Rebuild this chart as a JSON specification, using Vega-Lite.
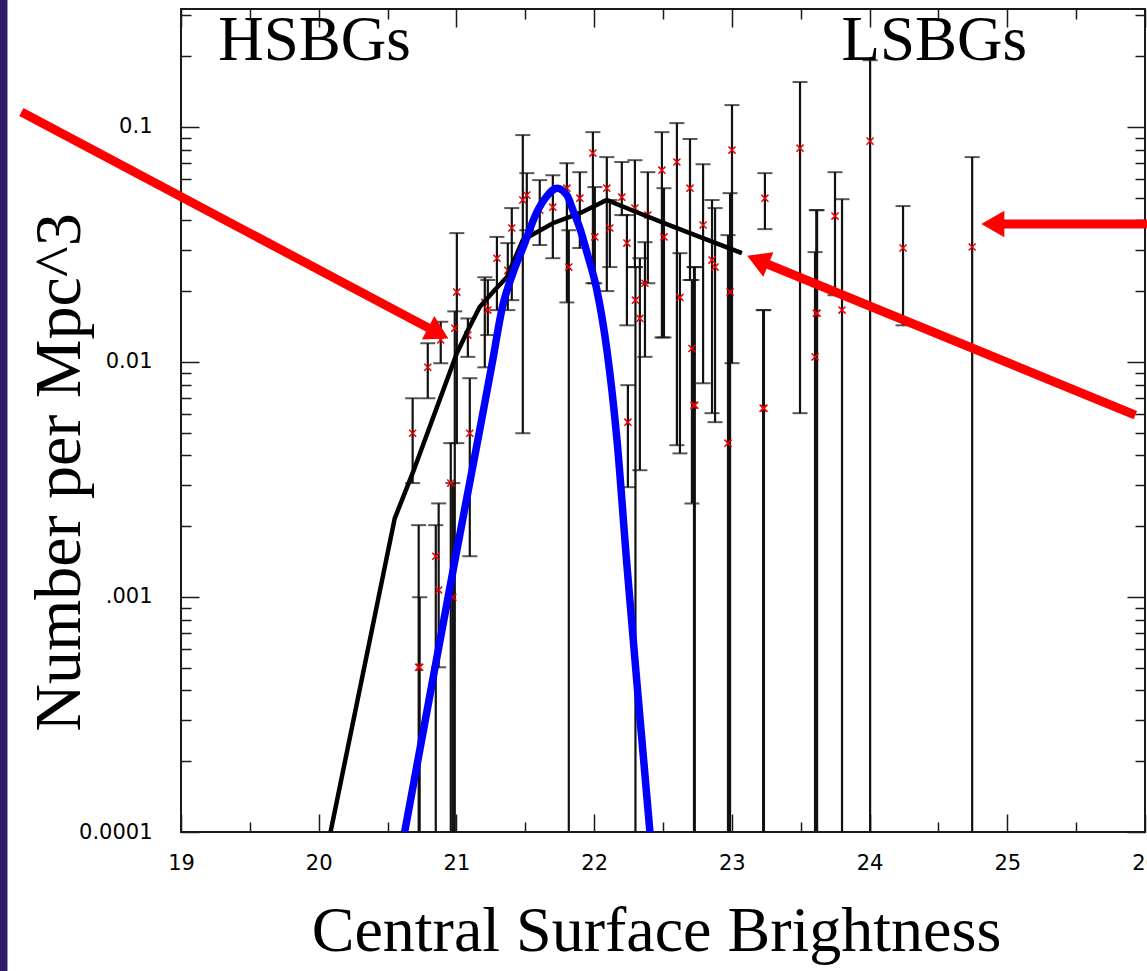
{
  "$schema": "https://vega.github.io/schema/vega-lite/v6.json",
  "width": 964,
  "height": 823,
  "autosize": {"type": "none"},
  "padding": {"left": 181, "top": 9, "right": 2, "bottom": 139},
  "background": "white",
  "config": {
    "view": {"stroke": "#1a1a1a", "strokeWidth": 2},
    "axis": {"grid": false, "domain": false, "tickColor": "#1a1a1a", "tickWidth": 1.5, "labelFont": "DejaVu Sans", "labelFontSize": 21, "labelColor": "black", "labelFlush": false, "labelOverlap": false}
  },
  "datasets": {
    "bars": [
      {"x": 20.682, "lo": 0.00305, "hi": 0.0070, "mid": 0.00497},
      {"x": 20.792, "lo": 0.0070, "hi": 0.0120, "mid": 0.00948},
      {"x": 20.886, "lo": 0.00987, "hi": 0.0148, "mid": 0.0124},
      {"x": 21.003, "lo": 0.00451, "hi": 0.0353, "mid": 0.0198},
      {"x": 20.988, "lo": 0.0001, "hi": 0.0164, "mid": 0.0139},
      {"x": 20.974, "lo": 0.0001, "hi": 0.00305, "mid": 0.000997},
      {"x": 20.959, "lo": 0.0001, "hi": 0.00451, "mid": 0.00305},
      {"x": 21.083, "lo": 0.0105, "hi": 0.0153, "mid": 0.0130},
      {"x": 21.097, "lo": 0.00149, "hi": 0.00852, "mid": 0.00497},
      {"x": 20.726, "lo": 0.0001, "hi": 0.00202, "mid": 0.000502},
      {"x": 20.733, "lo": 0.0001, "hi": 0.000997, "mid": 0.000502},
      {"x": 20.850, "lo": 0.0001, "hi": 0.00202, "mid": 0.00149},
      {"x": 20.871, "lo": 0.000502, "hi": 0.0025, "mid": 0.00107},
      {"x": 21.206, "lo": 0.00948, "hi": 0.0229, "mid": 0.0179},
      {"x": 21.228, "lo": 0.0130, "hi": 0.0223, "mid": 0.0166},
      {"x": 21.294, "lo": 0.0166, "hi": 0.0340, "mid": 0.0276},
      {"x": 21.373, "lo": 0.0166, "hi": 0.0320, "mid": 0.0245},
      {"x": 21.402, "lo": 0.0183, "hi": 0.0451, "mid": 0.0371},
      {"x": 21.482, "lo": 0.00497, "hi": 0.0922, "mid": 0.0488},
      {"x": 21.511, "lo": 0.0363, "hi": 0.0635, "mid": 0.0512},
      {"x": 21.605, "lo": 0.0314, "hi": 0.0593, "mid": 0.0442},
      {"x": 21.700, "lo": 0.0276, "hi": 0.0622, "mid": 0.0455},
      {"x": 21.802, "lo": 0.0179, "hi": 0.0700, "mid": 0.0548},
      {"x": 21.816, "lo": 0.0001, "hi": 0.0363, "mid": 0.0253},
      {"x": 21.896, "lo": 0.0305, "hi": 0.0641, "mid": 0.0497},
      {"x": 21.991, "lo": 0.0216, "hi": 0.0949, "mid": 0.0773},
      {"x": 22.005, "lo": 0.0216, "hi": 0.0554, "mid": 0.0340},
      {"x": 22.092, "lo": 0.0200, "hi": 0.0743, "mid": 0.0548},
      {"x": 22.114, "lo": 0.0253, "hi": 0.0488, "mid": 0.0371},
      {"x": 22.201, "lo": 0.0421, "hi": 0.0708, "mid": 0.0502},
      {"x": 22.238, "lo": 0.0143, "hi": 0.0421, "mid": 0.0320},
      {"x": 22.245, "lo": 0.00293, "hi": 0.00796, "mid": 0.00554},
      {"x": 22.296, "lo": 0.0253, "hi": 0.0721, "mid": 0.0451},
      {"x": 22.332, "lo": 0.00346, "hi": 0.0276, "mid": 0.0153},
      {"x": 22.300, "lo": 0.0001, "hi": 0.0253, "mid": 0.0183},
      {"x": 22.390, "lo": 0.0216, "hi": 0.0641, "mid": 0.0421},
      {"x": 22.369, "lo": 0.0105, "hi": 0.0323, "mid": 0.0216},
      {"x": 22.492, "lo": 0.0127, "hi": 0.0949, "mid": 0.0654},
      {"x": 22.507, "lo": 0.0127, "hi": 0.0548, "mid": 0.0340},
      {"x": 22.601, "lo": 0.00442, "hi": 0.1037, "mid": 0.0708},
      {"x": 22.623, "lo": 0.00408, "hi": 0.0290, "mid": 0.0188},
      {"x": 22.696, "lo": 0.0223, "hi": 0.0887, "mid": 0.0548},
      {"x": 22.725, "lo": 0.0001, "hi": 0.0253, "mid": 0.00654},
      {"x": 22.731, "lo": 0.0001, "hi": 0.0253, "mid": 0.00654},
      {"x": 22.710, "lo": 0.0025, "hi": 0.0223, "mid": 0.0114},
      {"x": 22.791, "lo": 0.00811, "hi": 0.0693, "mid": 0.0382},
      {"x": 22.856, "lo": 0.00605, "hi": 0.0488, "mid": 0.0271},
      {"x": 22.878, "lo": 0.00554, "hi": 0.0451, "mid": 0.0253},
      {"x": 23.001, "lo": 0.00987, "hi": 0.1237, "mid": 0.0796},
      {"x": 22.987, "lo": 0.0001, "hi": 0.0522, "mid": 0.0198},
      {"x": 22.972, "lo": 0.0001, "hi": 0.0346, "mid": 0.00451},
      {"x": 23.240, "lo": 0.0367, "hi": 0.0635, "mid": 0.0497},
      {"x": 23.233, "lo": 0.0001, "hi": 0.0166, "mid": 0.00635},
      {"x": 23.227, "lo": 0.0001, "hi": 0.0166, "mid": 0.00635},
      {"x": 23.495, "lo": 0.00605, "hi": 0.155, "mid": 0.0811},
      {"x": 23.619, "lo": 0.0001, "hi": 0.0442, "mid": 0.0161},
      {"x": 23.613, "lo": 0.0001, "hi": 0.0442, "mid": 0.0161},
      {"x": 23.604, "lo": 0.0001, "hi": 0.0293, "mid": 0.0105},
      {"x": 23.749, "lo": 0.0192, "hi": 0.0641, "mid": 0.0417},
      {"x": 23.800, "lo": 0.0001, "hi": 0.0492, "mid": 0.0166},
      {"x": 24.004, "lo": 0.0001, "hi": 0.192, "mid": 0.0869},
      {"x": 24.243, "lo": 0.0143, "hi": 0.0460, "mid": 0.0305},
      {"x": 24.745, "lo": 0.0001, "hi": 0.0743, "mid": 0.0308}
    ],
    "model": [
      {"x": 20.086, "y": 0.0001},
      {"x": 20.552, "y": 0.00216},
      {"x": 20.682, "y": 0.00336},
      {"x": 21.003, "y": 0.01088},
      {"x": 21.083, "y": 0.01364},
      {"x": 21.169, "y": 0.0171},
      {"x": 21.278, "y": 0.0202},
      {"x": 21.366, "y": 0.0229},
      {"x": 21.482, "y": 0.0330},
      {"x": 21.700, "y": 0.0389},
      {"x": 21.896, "y": 0.0429},
      {"x": 22.092, "y": 0.0488},
      {"x": 22.310, "y": 0.0433},
      {"x": 22.550, "y": 0.0381},
      {"x": 22.790, "y": 0.0336},
      {"x": 23.073, "y": 0.0290}
    ],
    "gauss": [
      {"x": 20.624, "y": 0.0001},
      {"x": 20.806, "y": 0.000378},
      {"x": 20.988, "y": 0.001419},
      {"x": 21.169, "y": 0.005122},
      {"x": 21.257, "y": 0.00968},
      {"x": 21.337, "y": 0.01743},
      {"x": 21.410, "y": 0.02384},
      {"x": 21.482, "y": 0.03047},
      {"x": 21.584, "y": 0.04335},
      {"x": 21.657, "y": 0.05071},
      {"x": 21.730, "y": 0.05483},
      {"x": 21.802, "y": 0.05122},
      {"x": 21.846, "y": 0.04419},
      {"x": 21.896, "y": 0.03706},
      {"x": 21.947, "y": 0.02929},
      {"x": 22.020, "y": 0.02019},
      {"x": 22.093, "y": 0.01121},
      {"x": 22.166, "y": 0.004643},
      {"x": 22.238, "y": 0.001364},
      {"x": 22.311, "y": 0.000429},
      {"x": 22.405, "y": 0.0001}
    ],
    "arrows": [
      {"arrow": "left", "x": 17.841, "y": 0.1155},
      {"arrow": "left", "x": 20.868, "y": 0.01325},
      {"arrow": "mid", "x": 25.930, "y": 0.005931},
      {"arrow": "mid", "x": 23.188, "y": 0.0271},
      {"arrow": "right", "x": 26.05, "y": 0.03855},
      {"arrow": "right", "x": 24.895, "y": 0.03855}
    ],
    "heads": [
      {"arrow": "left", "x": 20.868, "y": 0.01325},
      {"arrow": "mid", "x": 23.188, "y": 0.0271},
      {"arrow": "right", "x": 24.895, "y": 0.03855}
    ],
    "labels": [
      {"label": "HSBGs", "x": 19.97, "y": 0.192},
      {"label": "LSBGs", "x": 24.47, "y": 0.192}
    ],
    "stripe": [
      {"x0": 17.67, "x1": 17.74, "ylo": 0.00002, "yhi": 0.4}
    ]
  },
  "layer": [
    {
      "data": {"name": "stripe"},
      "mark": {"type": "rect", "color": "#2f1c68", "clip": false},
      "encoding": {
        "x": {"field": "x0", "type": "quantitative", "scale": {"domain": [19, 26], "nice": false, "zero": false}, "axis": null},
        "x2": {"field": "x1"},
        "y": {"field": "ylo", "type": "quantitative", "scale": {"type": "log", "domain": [0.0001, 0.317], "nice": false}, "axis": null},
        "y2": {"field": "yhi"}
      }
    },
    {
      "data": {"name": "bars"},
      "mark": {"type": "rule", "color": "#111111", "strokeWidth": 2.2},
      "encoding": {
        "x": {"field": "x", "type": "quantitative", "scale": {"domain": [19, 26], "nice": false, "zero": false},
          "axis": {"orient": "bottom", "values": [19, 20, 21, 22, 23, 24, 25, 26], "tickSize": -18, "labelPadding": 38,
            "title": "Central Surface Brightness", "titleFont": "Liberation Serif", "titleFontSize": 64, "titleFontWeight": "normal", "titleColor": "black",
            "titleX": 475, "titleY": 118, "titleAlign": "center", "titleBaseline": "alphabetic"}},
        "y": {"field": "hi", "type": "quantitative", "scale": {"type": "log", "domain": [0.0001, 0.317], "nice": false},
          "axis": {"orient": "left", "values": [0.0001, 0.001, 0.01, 0.1], "tickSize": -18, "labelPadding": 47,
            "labelExpr": "datum.value > 0.05 ? '0.1' : datum.value > 0.005 ? '0.01' : datum.value > 0.0005 ? '.001' : '0.0001'",
            "title": "Number per Mpc^3", "titleFont": "Liberation Serif", "titleFontSize": 66, "titleFontWeight": "normal", "titleColor": "black",
            "titleAngle": -90, "titleX": -102, "titleY": 463, "titleAlign": "center", "titleBaseline": "alphabetic"}},
        "y2": {"field": "lo"}
      }
    },
    {
      "data": {"name": "bars"},
      "mark": {"type": "tick", "orient": "horizontal", "color": "#111111", "size": 15, "thickness": 2},
      "encoding": {
        "x": {"field": "x", "type": "quantitative", "scale": {"domain": [19, 26], "nice": false, "zero": false},
          "axis": {"orient": "top", "values": [19, 20, 21, 22, 23, 24, 25, 26], "tickSize": -18, "labels": false, "title": null}},
        "y": {"field": "hi", "type": "quantitative", "scale": {"type": "log", "domain": [0.0001, 0.317], "nice": false},
          "axis": {"orient": "right", "values": [0.0001, 0.001, 0.01, 0.1], "tickSize": -18, "labels": false, "title": null}}
      }
    },
    {
      "data": {"name": "bars"},
      "transform": [{"filter": "datum.lo > 0.00011"}],
      "mark": {"type": "tick", "orient": "horizontal", "color": "#111111", "size": 15, "thickness": 2},
      "encoding": {
        "x": {"field": "x", "type": "quantitative", "scale": {"domain": [19, 26], "nice": false, "zero": false},
          "axis": {"orient": "bottom", "values": [19.5, 20.5, 21.5, 22.5, 23.5, 24.5, 25.5], "tickSize": -10, "labels": false, "title": null}},
        "y": {"field": "lo", "type": "quantitative", "scale": {"type": "log", "domain": [0.0001, 0.317], "nice": false},
          "axis": {"orient": "left", "values": [0.0002, 0.0003, 0.0004, 0.0005, 0.0006, 0.0007, 0.0008, 0.0009, 0.002, 0.003, 0.004, 0.005, 0.006, 0.007, 0.008, 0.009, 0.02, 0.03, 0.04, 0.05, 0.06, 0.07, 0.08, 0.09, 0.2, 0.3], "tickSize": -10, "labels": false, "title": null}}
      }
    },
    {
      "data": {"name": "bars"},
      "mark": {"type": "point", "shape": "M-1,-1L1,1M-1,1L1,-1", "filled": false, "color": "#ee0000", "strokeWidth": 1.5, "size": 50, "opacity": 1},
      "encoding": {
        "x": {"field": "x", "type": "quantitative", "scale": {"domain": [19, 26], "nice": false, "zero": false},
          "axis": {"orient": "top", "values": [19.5, 20.5, 21.5, 22.5, 23.5, 24.5, 25.5], "tickSize": -10, "labels": false, "title": null}},
        "y": {"field": "mid", "type": "quantitative", "scale": {"type": "log", "domain": [0.0001, 0.317], "nice": false},
          "axis": {"orient": "right", "values": [0.0002, 0.0003, 0.0004, 0.0005, 0.0006, 0.0007, 0.0008, 0.0009, 0.002, 0.003, 0.004, 0.005, 0.006, 0.007, 0.008, 0.009, 0.02, 0.03, 0.04, 0.05, 0.06, 0.07, 0.08, 0.09, 0.2, 0.3], "tickSize": -10, "labels": false, "title": null}}
      }
    },
    {
      "data": {"name": "model"},
      "mark": {"type": "line", "color": "black", "strokeWidth": 4.5},
      "encoding": {
        "x": {"field": "x", "type": "quantitative", "scale": {"domain": [19, 26], "nice": false, "zero": false}, "axis": null},
        "y": {"field": "y", "type": "quantitative", "scale": {"type": "log", "domain": [0.0001, 0.317], "nice": false}, "axis": null}
      }
    },
    {
      "data": {"name": "gauss"},
      "mark": {"type": "line", "color": "#0000ff", "strokeWidth": 7.5, "interpolate": "monotone"},
      "encoding": {
        "x": {"field": "x", "type": "quantitative", "scale": {"domain": [19, 26], "nice": false, "zero": false}, "axis": null},
        "y": {"field": "y", "type": "quantitative", "scale": {"type": "log", "domain": [0.0001, 0.317], "nice": false}, "axis": null}
      }
    },
    {
      "data": {"name": "arrows"},
      "mark": {"type": "line", "color": "#ff0000", "strokeWidth": 9, "clip": false},
      "encoding": {
        "x": {"field": "x", "type": "quantitative", "scale": {"domain": [19, 26], "nice": false, "zero": false}, "axis": null},
        "y": {"field": "y", "type": "quantitative", "scale": {"type": "log", "domain": [0.0001, 0.317], "nice": false}, "axis": null},
        "detail": {"field": "arrow"}
      }
    },
    {
      "data": {"name": "heads"},
      "transform": [{"filter": "datum.arrow == 'left'"}],
      "mark": {"type": "point", "shape": "triangle-right", "filled": true, "color": "#ff0000", "opacity": 1, "size": 700, "angle": 28, "clip": false},
      "encoding": {
        "x": {"field": "x", "type": "quantitative", "scale": {"domain": [19, 26], "nice": false, "zero": false}, "axis": null},
        "y": {"field": "y", "type": "quantitative", "scale": {"type": "log", "domain": [0.0001, 0.317], "nice": false}, "axis": null}
      }
    },
    {
      "data": {"name": "heads"},
      "transform": [{"filter": "datum.arrow == 'mid'"}],
      "mark": {"type": "point", "shape": "triangle-right", "filled": true, "color": "#ff0000", "opacity": 1, "size": 700, "angle": 202.4, "clip": false},
      "encoding": {
        "x": {"field": "x", "type": "quantitative", "scale": {"domain": [19, 26], "nice": false, "zero": false}, "axis": null},
        "y": {"field": "y", "type": "quantitative", "scale": {"type": "log", "domain": [0.0001, 0.317], "nice": false}, "axis": null}
      }
    },
    {
      "data": {"name": "heads"},
      "transform": [{"filter": "datum.arrow == 'right'"}],
      "mark": {"type": "point", "shape": "triangle-right", "filled": true, "color": "#ff0000", "opacity": 1, "size": 700, "angle": 180, "clip": false},
      "encoding": {
        "x": {"field": "x", "type": "quantitative", "scale": {"domain": [19, 26], "nice": false, "zero": false}, "axis": null},
        "y": {"field": "y", "type": "quantitative", "scale": {"type": "log", "domain": [0.0001, 0.317], "nice": false}, "axis": null}
      }
    },
    {
      "data": {"name": "labels"},
      "mark": {"type": "text", "font": "Liberation Serif", "fontSize": 63, "align": "center", "baseline": "alphabetic", "color": "black", "clip": false},
      "encoding": {
        "x": {"field": "x", "type": "quantitative", "scale": {"domain": [19, 26], "nice": false, "zero": false}, "axis": null},
        "y": {"field": "y", "type": "quantitative", "scale": {"type": "log", "domain": [0.0001, 0.317], "nice": false}, "axis": null},
        "text": {"field": "label"}
      }
    }
  ],
  "resolve": {"axis": {"x": "independent", "y": "independent"}}
}
